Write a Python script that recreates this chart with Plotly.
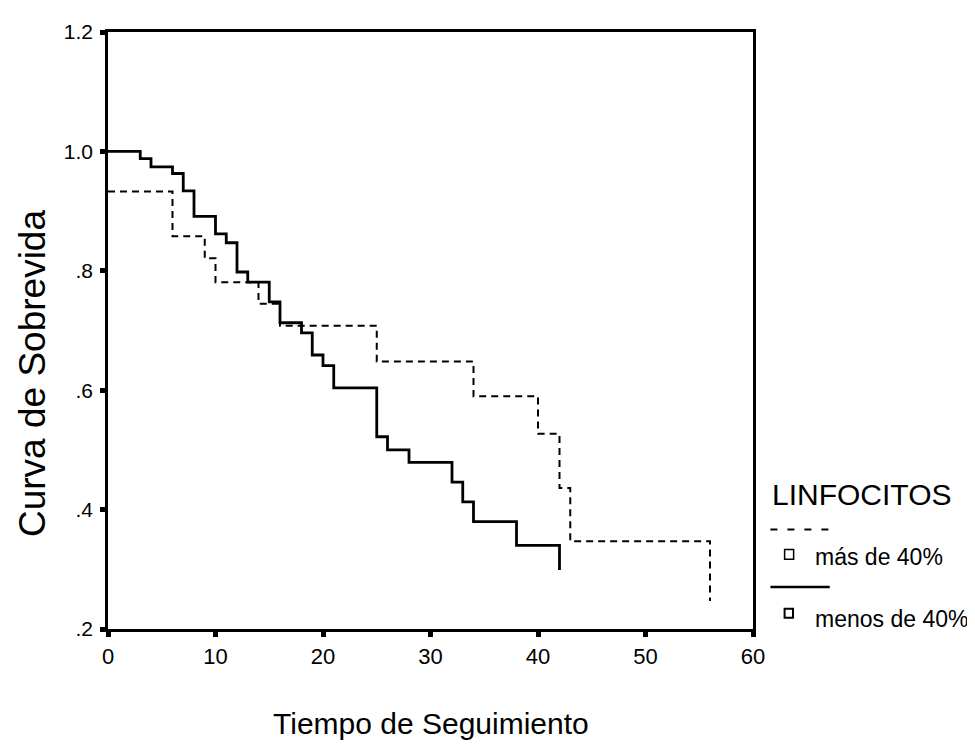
import plotly.graph_objects as go

# Kaplan-Meier steps
t_mas = [0, 6, 9, 10, 14, 16, 25, 34, 40, 42, 43, 56]
s_mas = [0.933, 0.858, 0.821, 0.781, 0.745, 0.708, 0.648, 0.590, 0.527, 0.436, 0.347, 0.247]

t_menos = [0, 3, 4, 6, 7, 8, 10, 11, 12, 13, 15, 16, 18, 19, 20, 21, 25, 26, 28, 32, 33, 34, 38, 42]
s_menos = [1.0, 0.988, 0.974, 0.963, 0.934, 0.891, 0.862, 0.847, 0.798, 0.781, 0.748, 0.713,
           0.696, 0.659, 0.641, 0.604, 0.522, 0.500, 0.479, 0.446, 0.413, 0.380, 0.340, 0.299]

x_ticks = [0, 10, 20, 30, 40, 50, 60]
y_ticks = [0.2, 0.4, 0.6, 0.8, 1.0, 1.2]
y_tick_text = [".2", ".4", ".6", ".8", "1.0", "1.2"]

legend_title = "LINFOCITOS"
legend_labels = ["más de 40%", "menos de 40%"]

FONT = "Liberation Sans, Arial, sans-serif"

fig = go.Figure()
fig.add_trace(go.Scatter(x=t_mas, y=s_mas, mode="lines", line_shape="hv",
                         line=dict(color="black", width=2, dash="7px,5px"),
                         name=legend_labels[0], showlegend=False))
fig.add_trace(go.Scatter(x=t_menos, y=s_menos, mode="lines", line_shape="hv",
                         line=dict(color="black", width=2.8),
                         name=legend_labels[1], showlegend=False))

axis_common = dict(showline=True, linecolor="black", linewidth=2.5, mirror=True,
                   showgrid=False, zeroline=False, ticks="outside", ticklen=5,
                   tickwidth=5, tickcolor="black")

fig.update_xaxes(range=[0, 60], tickvals=x_ticks, ticktext=[str(v) for v in x_ticks],
                 ticklabelstandoff=1,
                 tickfont=dict(family=FONT, size=22, color="black"), **axis_common)
fig.update_yaxes(range=[0.2, 1.2], tickvals=y_ticks, ticktext=y_tick_text,
                 ticklabelstandoff=3,
                 tickfont=dict(family=FONT, size=21, color="black"), **axis_common)

annotations = [
    dict(text="Tiempo de Seguimiento", xref="paper", yref="paper", x=0.5, y=-0.158,
         xanchor="center", yanchor="middle", showarrow=False,
         font=dict(family=FONT, size=30, color="black")),
    dict(text="Curva de Sobrevida", xref="paper", yref="paper", x=-0.117, y=0.428,
         xanchor="center", yanchor="middle", showarrow=False, textangle=-90,
         font=dict(family=FONT, size=37, color="black")),
    dict(text=legend_title, xref="paper", yref="paper", x=1.027, y=0.2252,
         xanchor="left", yanchor="middle", showarrow=False,
         font=dict(family=FONT, size=30, color="black")),
    dict(text=legend_labels[0], xref="paper", yref="paper", x=1.0925, y=0.1208,
         xanchor="left", yanchor="middle", showarrow=False,
         font=dict(family=FONT, size=23, color="black")),
    dict(text=legend_labels[1], xref="paper", yref="paper", x=1.093, y=0.017,
         xanchor="left", yanchor="middle", showarrow=False,
         font=dict(family=FONT, size=23, color="black")),
]

shapes = [
    dict(type="line", xref="paper", yref="paper", x0=1.027, x1=1.119, y0=0.1666, y1=0.1666,
         line=dict(color="black", width=2, dash="7px,10px")),
    dict(type="line", xref="paper", yref="paper", x0=1.027, x1=1.119, y0=0.0702, y1=0.0702,
         line=dict(color="black", width=2.5)),
    dict(type="rect", xref="paper", yref="paper", x0=1.049, x1=1.063, y0=0.117, y1=0.133,
         line=dict(color="black", width=1.5)),
    dict(type="rect", xref="paper", yref="paper", x0=1.049, x1=1.062, y0=0.019, y1=0.034,
         line=dict(color="black", width=2)),
]

# the page body adds an 8px margin, so the figure is 8px smaller and margins shifted
fig.update_layout(width=967, height=740, autosize=False,
                  margin=dict(l=100, r=222, t=14, b=119),
                  paper_bgcolor="white", plot_bgcolor="white",
                  showlegend=False, annotations=annotations, shapes=shapes,
                  font=dict(family=FONT, color="black"))

fig.write_html("out.html")
